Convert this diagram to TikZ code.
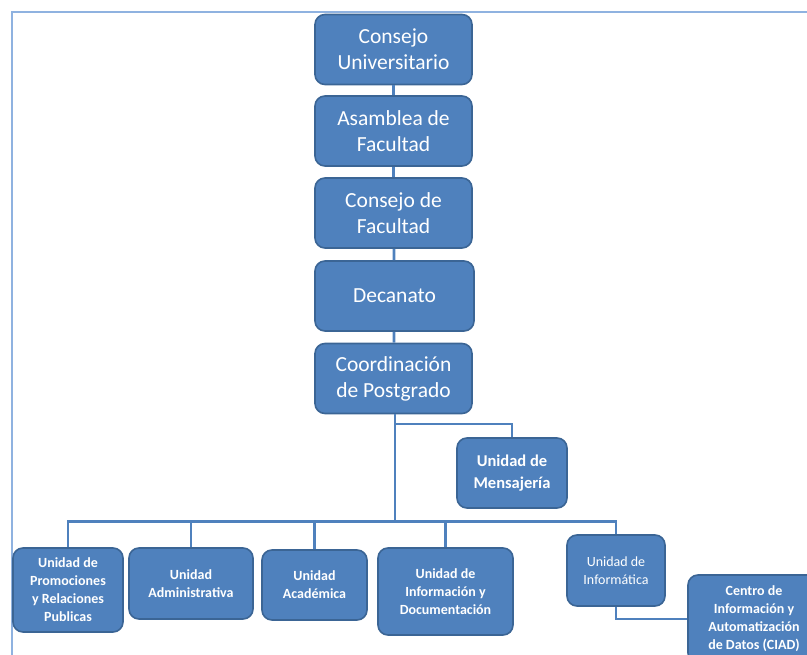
\documentclass[tikz,border=0pt]{standalone}
\usepackage{fontspec}
\setmainfont{Carlito}
\definecolor{boxfill}{HTML}{4F81BD}
\definecolor{boxedge}{HTML}{3B6595}
\definecolor{linkc}{HTML}{4F81BD}
\definecolor{framec}{HTML}{8FB2E0}
\tikzset{
  orgbox/.style={draw=boxedge, line width=1.6pt, fill=boxfill, rounded corners=10pt,
    text=white, align=center, inner sep=2pt},
  topbox/.style={orgbox, minimum width=157pt, minimum height=70pt,
    font=\fontsize{21.5}{26}\selectfont},
  unitbox/.style={orgbox, font=\bfseries\fontsize{14}{18}\selectfont},
  link/.style={draw=linkc, line width=2.8pt},
}
\begin{document}
\begin{tikzpicture}[x=1pt,y=-1pt]
\useasboundingbox (0,0) rectangle (807,655);
\clip (0,0) rectangle (807,655);

% outer frame
\draw[framec, line width=2pt] (11.5,660) -- (11.5,12.5) -- (810,12.5);

% main chain
\node[topbox] (cu)  at (393.5,49.5)  {Consejo\\Universitario};
\node[topbox] (af)  at (393.5,131)   {Asamblea de\\Facultad};
\node[topbox] (cf)  at (393.5,213)   {Consejo de\\Facultad};
\node[topbox, minimum width=159pt] (dec) at (394.5,296) {Decanato};
\node[topbox] (cp)  at (393.5,378.5) {Coordinación\\de Postgrado};

% staff unit
\node[unitbox, font=\bfseries\fontsize{16.5}{22}\selectfont,
      minimum width=110pt, minimum height=70pt] (men) at (512,473) {Unidad de\\Mensajería};

% operating units
\node[unitbox, minimum width=110pt, minimum height=84pt] (pro) at (68,590)
  {Unidad de\\Promociones\\y Relaciones\\Publicas};
\node[unitbox, minimum width=124pt, minimum height=71pt] (adm) at (191,583.5)
  {Unidad\\Administrativa};
\node[unitbox, minimum width=105pt, minimum height=70pt] (aca) at (314.5,585)
  {Unidad\\Académica};
\node[unitbox, minimum width=135pt, minimum height=87pt] (doc) at (445.5,591.5)
  {Unidad de\\Información y\\Documentación};
\node[orgbox, font=\fontsize{14}{18}\selectfont,
      minimum width=98pt, minimum height=71pt] (inf) at (616,570.5)
  {Unidad de\\Informática};
\node[unitbox, minimum width=132pt, minimum height=88pt] (ciad) at (754,619)
  {Centro de\\Información y\\Automatización\\de Datos (CIAD)};

% connectors
\draw[link] (cu) -- (af);
\draw[link] (af) -- (cf);
\draw[link] (cf) -- (dec);
\draw[link] (dec) -- (cp);
\coordinate (tap) at (395,424);
\coordinate (bus) at (395,521.5);
\draw[link] (cp.south -| bus) -- (bus);
\draw[link] (tap) -| (men.north);
\draw[link] (bus) -| (pro.north);
\draw[link] (bus) -| (adm.north);
\draw[link] (bus) -| (aca.north);
\draw[link] (bus) -| (doc.north);
\draw[link] (bus) -| (inf.north);
\draw[link] (inf.south) |- (ciad.west);
\end{tikzpicture}
\end{document}
